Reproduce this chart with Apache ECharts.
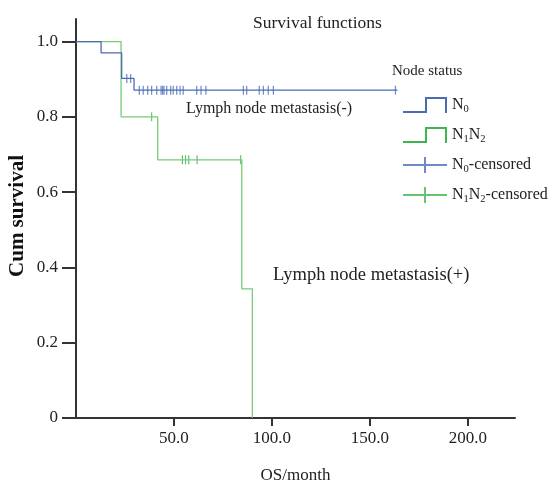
<!DOCTYPE html>
<html>
<head>
<meta charset="utf-8">
<script src="https://cdn.jsdelivr.net/npm/echarts@6/dist/echarts.min.js"></script>
<style>
  html, body { margin: 0; padding: 0; background: #fff; }
  #chart { width: 553px; height: 489px; }
</style>
</head>
<body>
<div id="chart"></div>
<script>
// Kaplan-Meier steps (time in months, cumulative survival)
const n0Times = [0, 12.8, 23.3, 29.6, 164];
const n0Surv = [1, 0.97, 0.902, 0.871, 0.871];
const n12Times = [0, 23, 41.7, 84.6, 90];
const n12Surv = [1, 0.8, 0.686, 0.343, 0];

// censored marks
const n0CensorTimes = [25.9, 27.9, 32.3, 34.3, 36.6, 38.6, 41.2, 43.4, 44.2, 44.9, 46.3, 48.3,
  49.6, 51.4, 53.1, 54.7, 61.6, 63.8, 66.3, 85.4, 87.1, 93.5, 95.6, 98.1, 100.7, 163];
const n0CensorSurv = [0.902, 0.902, 0.871, 0.871, 0.871, 0.871, 0.871, 0.871, 0.871, 0.871, 0.871,
  0.871, 0.871, 0.871, 0.871, 0.871, 0.871, 0.871, 0.871, 0.871, 0.871, 0.871, 0.871, 0.871, 0.871, 0.871];
const n12CensorTimes = [38.6, 54.3, 55.9, 57.5, 61.8, 84];
const n12CensorSurv = [0.8, 0.686, 0.686, 0.686, 0.686, 0.686];

const xTicks = [50, 100, 150, 200];
const yTicks = [0, 0.2, 0.4, 0.6, 0.8, 1.0];

const SERIF = "'Liberation Serif', 'DejaVu Serif', serif";
const BLUE = "#4a6cb5";
const GREEN = "#76cb76";
const GREEN_ICON = "#3fb54e";

const zip = (a, b) => a.map((v, i) => [v, b[i]]);

const stepIcon = "path://M0,14 L22,14 L22,0 L44,0 L44,16 L42,16 L42,2 L24,2 L24,16 L0,16 Z";
const crossIcon = "path://M0,7 L44,7 L44,9 L0,9 Z M21,0 L23,0 L23,16 L21,16 Z";

const labels = {
  "N0": "{n|N}{s|0}",
  "N1N2": "{n|N}{s|1}{n|N}{s|2}",
  "N0-censored": "{n|N}{s|0}{n|-censored}",
  "N1N2-censored": "{n|N}{s|1}{n|N}{s|2}{n|-censored}"
};

const chart = echarts.init(document.getElementById("chart"));
chart.setOption({
  animation: false,
  textStyle: { fontFamily: SERIF },
  grid: { left: 76, right: 38, top: 19, bottom: 59 },
  title: {
    text: "Survival functions",
    left: 248,
    top: 9,
    textStyle: { fontFamily: SERIF, fontSize: 17.5, fontWeight: "normal", color: "#222" }
  },
  legend: {
    orient: "vertical",
    left: 398,
    top: 92,
    itemWidth: 44,
    itemHeight: 16,
    itemGap: 12,
    data: [
      { name: "N0", icon: stepIcon },
      { name: "N1N2", icon: stepIcon },
      { name: "N0-censored", icon: crossIcon },
      { name: "N1N2-censored", icon: crossIcon }
    ],
    formatter: (name) => labels[name],
    textStyle: {
      fontFamily: SERIF,
      fontSize: 16,
      color: "#222",
      rich: {
        n: { fontFamily: SERIF, fontSize: 16, color: "#222", lineHeight: 20 },
        s: { fontFamily: SERIF, fontSize: 10.5, color: "#222", lineHeight: 10, verticalAlign: "bottom" }
      }
    }
  },
  graphic: [
    { type: "text", left: 392, top: 64, style: { text: "Node status", font: "15px " + SERIF, fill: "#222" } },
    { type: "text", left: 186, top: 101, style: { text: "Lymph node metastasis(-)", font: "16px " + SERIF, fill: "#222" } },
    { type: "text", left: 273, top: 266, style: { text: "Lymph node metastasis(+)", font: "18.5px " + SERIF, fill: "#222" } },
    {
      type: "text", x: 18, y: 216, rotation: Math.PI / 2,
      style: { text: "Cum survival", font: "bold 21px " + SERIF, fill: "#111", align: "center", verticalAlign: "middle" }
    }
  ],
  xAxis: {
    type: "value",
    min: 0,
    max: 224,
    name: "OS/month",
    nameLocation: "middle",
    nameGap: 49,
    nameTextStyle: { fontFamily: SERIF, fontSize: 17, color: "#222" },
    splitLine: { show: false },
    axisLine: { lineStyle: { color: "#333", width: 2 } },
    axisTick: { show: true, length: 8, customValues: xTicks, lineStyle: { color: "#333", width: 2 } },
    axisLabel: {
      customValues: xTicks,
      margin: 12,
      fontFamily: SERIF,
      fontSize: 17,
      color: "#222",
      formatter: (v) => v.toFixed(1)
    }
  },
  yAxis: {
    type: "value",
    min: 0,
    max: 1.06,
    splitLine: { show: false },
    axisLine: { show: true, lineStyle: { color: "#333", width: 2 } },
    axisTick: { show: true, length: 14, customValues: yTicks, lineStyle: { color: "#333", width: 2 } },
    axisLabel: {
      customValues: yTicks,
      margin: 18,
      fontFamily: SERIF,
      fontSize: 17,
      color: "#222",
      formatter: (v) => (v === 0 ? "0" : v.toFixed(1))
    }
  },
  series: [
    {
      name: "N1N2",
      type: "line",
      step: "end",
      showSymbol: false,
      data: zip(n12Times, n12Surv),
      lineStyle: { color: GREEN, width: 1.3 },
      itemStyle: { color: GREEN_ICON }
    },
    {
      name: "N0",
      type: "line",
      step: "end",
      showSymbol: false,
      data: zip(n0Times, n0Surv),
      lineStyle: { color: BLUE, width: 1.3 },
      itemStyle: { color: BLUE }
    },
    {
      name: "N0-censored",
      type: "scatter",
      symbol: "rect",
      symbolSize: [1.2, 9],
      data: zip(n0CensorTimes, n0CensorSurv),
      itemStyle: { color: BLUE }
    },
    {
      name: "N1N2-censored",
      type: "scatter",
      symbol: "rect",
      symbolSize: [1.2, 9],
      data: zip(n12CensorTimes, n12CensorSurv),
      itemStyle: { color: GREEN_ICON }
    }
  ]
});
</script>
</body>
</html>
